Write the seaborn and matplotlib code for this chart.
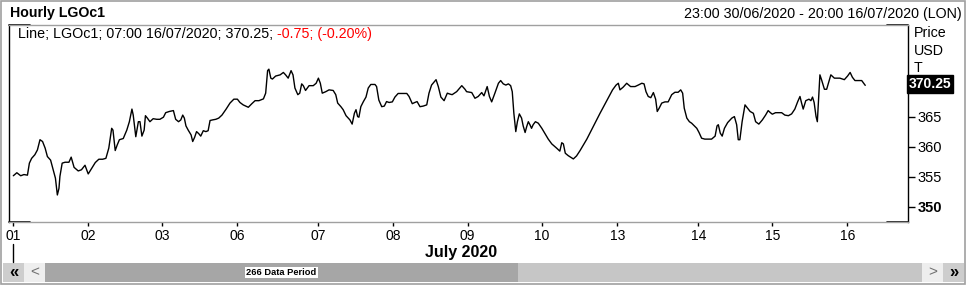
import matplotlib
matplotlib.use("Agg")
import matplotlib.pyplot as plt
import seaborn as sns
import pandas as pd
from matplotlib.patches import Rectangle
from matplotlib.lines import Line2D

# ---------------- data ----------------
hour_index = [
    0, 1.1, 2.3, 3.3, 4.4, 5.0, 5.7, 6.7, 7.5, 8.3, 9.1, 9.9, 10.6, 11.6, 12.4, 13.1, 13.7, 14.2, 14.5,
    15.2, 16.1, 17.3, 18.0, 18.9, 20.2, 21.2, 22.3, 23.3, 24.4, 25.5, 26.6, 27.8, 28.8, 29.7, 30.6, 31.0,
    31.7, 32.3, 33.0, 34.2, 35.3, 36.1, 36.9, 37.3, 38.1, 38.9, 39.4, 40.0, 40.7, 41.1, 41.7, 42.5, 43.5,
    44.6, 45.6, 46.7, 47.4, 48.5, 49.8, 50.5, 51.4, 52.1, 52.7, 53.2, 53.7, 54.4, 55.3, 55.8, 56.4, 57.0,
    57.7, 58.3, 59.1, 59.9, 60.6, 61.2, 62.0, 63.0, 63.9, 64.9, 66.2, 67.4, 68.6, 69.7, 70.5, 71.5, 73.1,
    74.2, 75.2, 76.4, 77.8, 78.5, 79.1, 79.5, 80.1, 80.6, 81.6, 83.0, 84.0, 84.7, 85.5, 86.4, 87.0, 87.6,
    88.5, 89.1, 89.7, 90.2, 90.9, 92.0, 93.3, 94.2, 94.9, 95.5, 96.1, 97.2, 98.2, 99.5, 100.3, 100.9,
    101.9, 102.6, 103.5, 104.7, 105.4, 106.1, 106.6, 107.1, 107.5, 108.1, 108.9, 109.7, 110.4, 111.2,
    112.5, 113.0, 113.7, 114.6, 115.4, 116.1, 116.9, 117.9, 118.7, 119.7, 122.4, 123.1, 124.1, 124.9,
    125.6, 126.5, 127.5, 128.6, 129.3, 130.1, 131.5, 132.2, 133.0, 134.0, 135.0, 135.8, 136.5, 137.9,
    139.5, 140.5, 141.0, 142.6, 143.6, 144.6, 145.7, 146.4, 147.4, 148.1, 148.8, 149.8, 150.9, 151.6,
    152.4, 153.2, 154.0, 154.7, 155.2, 155.7, 156.3, 156.8, 157.4, 158.1, 158.6, 159.2, 159.7, 160.2,
    160.7, 161.2, 161.7, 162.4, 163.3, 164.4, 165.4, 166.4, 167.5, 169.0, 170.0, 170.6, 171.1, 171.7,
    172.6, 174.2, 175.2, 176.3, 178.4, 180.4, 182.5, 184.6, 186.4, 187.5, 188.2, 188.7, 189.7, 190.8,
    192.0, 193.4, 194.4, 195.5, 196.2, 196.8, 197.5, 198.3, 199.1, 199.8, 200.3, 200.9, 201.7, 202.7,
    203.7, 204.8, 205.8, 206.8, 207.6, 208.2, 208.7, 209.5, 210.3, 211.0, 212.6, 213.3, 214.1, 215.1,
    217.2, 218.3, 218.9, 219.3, 219.9, 220.5, 221.2, 222.2, 223.5, 224.3, 225.0, 225.5, 226.0, 226.7,
    227.6, 228.4, 229.2, 230.2, 230.9, 231.9, 233.0, 234.0, 234.8, 235.5, 236.1, 237.1, 239.0, 240.0,
    241.1, 242.1, 243.1, 244.0, 244.7, 245.2, 245.7, 246.5, 247.5, 248.1, 248.6, 249.1, 249.7, 250.1,
    250.5, 250.9, 251.4, 252.3, 253.0, 253.7, 254.3, 255.4, 257.1, 258.5, 259.5, 260.3, 261.0, 261.8,
    263.9, 265.0,
]
price = [
    355.2, 355.7, 355.2, 355.4, 355.3, 357.3, 358.1, 358.7, 359.5, 361.2, 360.9, 359.8, 358.4, 357.8,
    356.2, 354.8, 352.0, 353.1, 355.1, 357.3, 357.45, 357.45, 358.3, 356.6, 356.0, 356.2, 356.95, 355.5,
    356.45, 357.4, 357.95, 357.95, 358.1, 359.8, 363.1, 362.8, 359.4, 360.3, 361.2, 361.4, 362.8, 364.2,
    366.3, 365.3, 361.7, 364.2, 364.2, 361.8, 362.8, 365.2, 364.8, 364.2, 364.7, 364.6, 364.6, 364.95,
    365.7, 365.9, 366.05, 364.6, 364.2, 364.5, 365.3, 364.8, 363.5, 362.8, 362.0, 360.9, 361.6, 362.55,
    362.2, 361.8, 362.7, 362.55, 362.7, 364.4, 364.5, 364.6, 364.8, 365.3, 366.3, 367.3, 367.95, 367.95,
    367.4, 367.0, 366.6, 367.2, 367.7, 367.7, 368.0, 368.95, 372.7, 372.95, 371.45, 371.3, 371.8, 372.0,
    372.4, 372.0, 371.45, 372.7, 372.0, 369.8, 368.7, 368.95, 370.5, 370.2, 369.4, 370.2, 370.2, 370.6,
    371.45, 370.6, 368.95, 369.2, 369.5, 369.4, 368.7, 367.3, 366.7, 366.2, 365.2, 364.5, 363.8, 365.6,
    366.2, 365.05, 364.95, 366.7, 367.55, 368.3, 369.8, 370.4, 370.4, 370.05, 367.8, 366.7, 366.8,
    367.55, 367.4, 367.5, 368.3, 368.9, 368.9, 368.4, 367.2, 367.4, 367.55, 366.7, 366.8, 367.0, 368.95,
    370.3, 371.2, 370.05, 368.3, 367.7, 368.95, 368.8, 368.7, 369.2, 370.2, 369.6, 369.2, 369.05, 368.1,
    368.4, 369.05, 368.5, 370.05, 368.4, 367.5, 368.95, 370.6, 371.05, 370.5, 370.3, 370.5, 370.2,
    369.2, 365.6, 362.55, 364.2, 365.5, 364.8, 363.5, 362.4, 363.4, 364.2, 363.7, 363.1, 363.7, 364.2,
    363.95, 363.1, 362.2, 361.3, 360.5, 359.8, 359.3, 360.7, 360.5, 358.95, 358.55, 358.0, 358.5, 359.4,
    361.3, 363.4, 365.6, 367.7, 369.5, 370.3, 370.6, 369.5, 369.95, 370.6, 370.05, 370.05, 370.3, 370.6,
    370.5, 369.2, 368.4, 368.2, 369.05, 367.95, 365.9, 366.45, 367.3, 367.5, 367.5, 368.7, 369.1, 369.1,
    369.5, 368.95, 366.45, 364.8, 364.2, 363.95, 363.1, 362.4, 361.45, 361.3, 361.3, 361.8, 363.5, 363.7,
    362.3, 361.8, 363.1, 364.05, 364.8, 365.05, 363.7, 361.2, 361.2, 364.2, 367.0, 366.45, 365.9, 365.6,
    364.2, 363.8, 364.5, 365.3, 366.05, 365.7, 365.45, 365.7, 365.7, 365.3, 365.2, 365.5, 366.3, 367.55,
    368.4, 367.3, 366.3, 367.7, 367.95, 367.7, 368.3, 367.4, 365.05, 364.2, 367.95, 372.0, 371.2, 369.6,
    369.6, 370.9, 372.0, 371.45, 371.45, 371.2, 371.8, 372.4, 371.6, 371.05, 371.05, 370.25,
]
day_tick_pos = [0, 23.3, 46.3, 69.7, 94.9, 118.2, 141.3, 164.5, 187.9, 213.1, 236.1, 259.4]
day_tick_labels = ["01", "02", "03", "06", "07", "08", "09", "10", "13", "14", "15", "16"]
price_ticks = [350, 355, 360, 365]
last_price = 370.25

df = pd.DataFrame({"hour": hour_index, "price": price})

# ---------------- figure ----------------
sns.set_theme(style="white")
plt.rcParams["font.family"] = ["Liberation Sans", "DejaVu Sans"]

W, H = 967, 286
fig = plt.figure(figsize=(W / 100, H / 100), dpi=100)
fig.patch.set_facecolor("white")


def fx(px):
    return px / W


def fy(py):
    return 1 - py / H


ax = fig.add_axes([fx(9), fy(222), fx(908) - fx(9), fy(25) - fy(222)])
sns.lineplot(data=df, x="hour", y="price", ax=ax, color="black", linewidth=1.0,
             estimator=None, sort=False)
ax.set_xlim(-1.34, 278.3)
ax.set_ylim(347.5, 380.3)
ax.set_xlabel("")
ax.set_ylabel("")
ax.set_facecolor("white")

# spines
for s in ["top", "bottom"]:
    ax.spines[s].set_color("#a0a0a0")
    ax.spines[s].set_linewidth(1.0)
for s in ["left", "right"]:
    ax.spines[s].set_color("black")
    ax.spines[s].set_linewidth(1.0)
seg = 21 / 899
for (x0, x1, y) in [(0, seg, 1), (1 - seg, 1, 1), (0, seg, 0), (1 - seg, 1, 0)]:
    ax.add_line(Line2D([x0, x1], [y, y], transform=ax.transAxes, color="black",
                       lw=1.2, clip_on=False))

# ticks
ax.set_xticks(day_tick_pos)
ax.set_xticklabels(day_tick_labels)
ax.tick_params(axis="x", bottom=True, direction="out", length=3, width=1,
               color="black", labelsize=10, pad=2, labelcolor="black")
ax.yaxis.tick_right()
ax.set_yticks(price_ticks)
ax.set_yticklabels([str(v) for v in price_ticks])
ax.tick_params(axis="y", right=True, left=False, direction="out", length=5, width=1,
               color="black", labelsize=10.5, pad=2, labelcolor="black")
ax.get_yticklabels()[0].set_fontweight("bold")
ax.grid(False)

# header
fig.text(fx(10), fy(13), "Hourly LGOc1", fontsize=10.2, fontweight="bold",
         ha="left", va="center", color="black")
fig.text(fx(962), fy(14), "23:00 30/06/2020 - 20:00 16/07/2020 (LON)", fontsize=10.3,
         ha="right", va="center", color="black")

# legend line in the plot
t1 = fig.text(fx(18), fy(34), "Line; LGOc1; 07:00 16/07/2020; 370.25; ", fontsize=10.3,
              ha="left", va="center", color="black")
fig.canvas.draw()
bb = t1.get_window_extent(renderer=fig.canvas.get_renderer())
fig.text(bb.x1 / fig.dpi / fig.get_figwidth(), fy(34), "-0.75; (-0.20%)", fontsize=10.3,
         ha="left", va="center", color="#ff0000")

# right axis unit labels
for txt, yy in [("Price", 33), ("USD", 51), ("T", 68)]:
    fig.text(fx(914), fy(yy), txt, fontsize=10.3, ha="left", va="center", color="black")

# last value tag
fig.text(fx(909), fy(84), "%.2f" % last_price, fontsize=10, fontweight="bold",
         color="white", ha="left", va="center",
         bbox=dict(boxstyle="square,pad=0.12", facecolor="black", edgecolor="black"))

# month label and marker
fig.text(fx(461), fy(252), "July 2020", fontsize=11.5, fontweight="bold",
         ha="center", va="center", color="black")
fig.add_artist(Line2D([fx(13.3), fx(13.3)], [fy(244), fy(262)], color="black", lw=1.0))

# scrollbar
def rect(x0, x1, y0, y1, color):
    fig.add_artist(Rectangle((fx(x0), fy(y1)), fx(x1) - fx(x0), fy(y0) - fy(y1),
                             facecolor=color, edgecolor="none"))

rect(3, 24, 263, 282, "#cdcdcd")
rect(24, 45, 263, 282, "#eeeeee")
rect(45, 518, 263, 282, "#a6a6a6")
rect(518, 922, 263, 282, "#c6c6c6")
rect(922, 943, 263, 282, "#eeeeee")
rect(943, 964, 263, 282, "#cdcdcd")
fig.text(fx(13.5), fy(272.5), "«", fontsize=12, fontweight="bold", ha="center", va="center", color="black")
fig.text(fx(34.5), fy(272), "<", fontsize=11, ha="center", va="center", color="#707070")
fig.text(fx(932.5), fy(272), ">", fontsize=11, ha="center", va="center", color="#707070")
fig.text(fx(953.5), fy(272.5), "»", fontsize=12, fontweight="bold", ha="center", va="center", color="black")
fig.text(fx(281.5), fy(272.5), "266 Data Period", fontsize=6.7, fontweight="bold",
         ha="center", va="center", color="black",
         bbox=dict(boxstyle="square,pad=0.15", facecolor="white", edgecolor="none"))

# outer frame
fig.add_artist(Rectangle((fx(1), fy(284)), fx(965) - fx(1), fy(1) - fy(284),
                         facecolor="none", edgecolor="#a0a0a0", lw=1.2))

fig.savefig("out.png", dpi=100)
